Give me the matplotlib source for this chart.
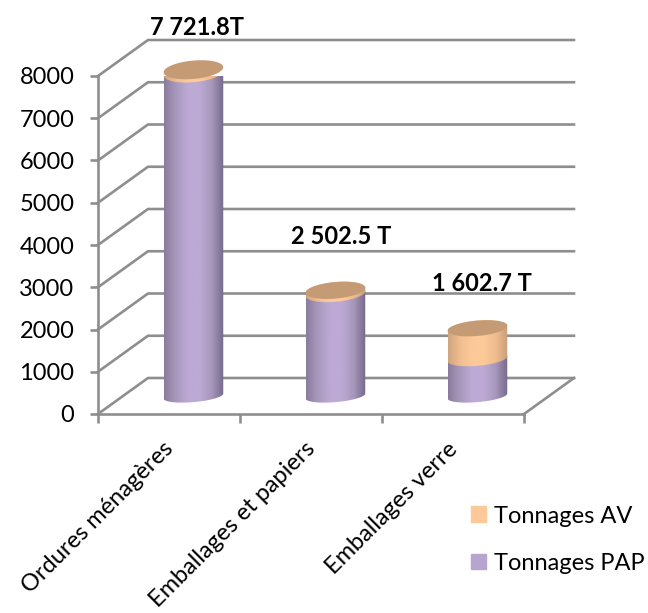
import numpy as np
from matplotlib import pyplot as plt
from matplotlib.patches import PathPatch, Patch
from matplotlib.path import Path
from matplotlib.colors import LinearSegmentedColormap

plt.rcParams['font.family'] = ['Lato', 'DejaVu Sans']

categories = ["Ordures ménagères", "Emballages et papiers", "Emballages verre"]
tonnages_pap = [7645, 2425, 880]
tonnages_av = [77, 77, 723]
totaux = ["7 721.8T", "2 502.5 T", "1 602.7 T"]
yticks = [0, 1000, 2000, 3000, 4000, 5000, 6000, 7000, 8000]

GREY = '#8e8e8e'
# 3d box offset, in data units
DX = 0.352
DY = 852
# one pixel in y, in data units
PX = 8000 / 338

fig = plt.figure(figsize=(6.48, 6.13), dpi=100)
ax = fig.add_axes([98 / 648, 1 - 414 / 613, 426 / 648, 338 / 613])
ax.set_xlim(0, 3)
ax.set_ylim(0, 8000)

# back wall and floor
for v in yticks:
    ax.plot([0, DX, 3 + DX], [v, v + DY, v + DY], color=GREY, lw=1.9, clip_on=False, zorder=1)
ax.plot([3, 3 + DX], [0, DY], color=GREY, lw=1.9, clip_on=False, zorder=1)


def half_height(v):
    return np.interp(v, [0, 1600, 2500, 7700], [5.7, 7.3, 8.2, 9.2]) * PX


def arc(c, v, t0, t1):
    t = np.linspace(t0, t1, 60)
    x = c + 0.21 * np.cos(t)
    y = v + half_height(v) * np.sin(t) + 2.5 * PX * np.cos(t)
    return np.column_stack([x, y])


def body(c, v0, v1, colors, z):
    # front arc of the lower end, then back arc of the upper end
    pts = np.vstack([arc(c, v0, np.pi, 2 * np.pi), arc(c, v1, 0, np.pi)])
    patch = PathPatch(Path(np.vstack([pts, pts[0]])), fc='none', ec='none', zorder=z)
    ax.add_patch(patch)
    cmap = LinearSegmentedColormap.from_list('c', colors)
    im = ax.imshow(np.linspace(0, 1, 128)[None, :], cmap=cmap, aspect='auto', zorder=z, clip_on=True,
                   extent=[c - 0.21, c + 0.21, v0 - 300, v1 + 300])
    im.set_clip_path(patch)


purple = ['#8a7c9f', '#a898bd', '#bcaad5', '#bcaad5', '#a797bb', '#75698a']
orange = ['#cfa67f', '#f0bd8f', '#fdc998', '#fdc998', '#efbc8e', '#c79f7b']
base = DY / 2
for i in range(3):
    c = i + 0.5 + DX / 2 - 0.004
    v0 = base
    v1 = v0 + tonnages_pap[i]
    v2 = v1 + tonnages_av[i]
    body(c, v0, v1, purple, 3)
    body(c, v1, v2, orange, 4)
    top = arc(c, v2, 0, 2 * np.pi)
    ax.fill(top[:, 0], top[:, 1], color='#c59b75', lw=0, zorder=5, clip_on=False)
ax.set_xlim(0, 3)
ax.set_ylim(0, 8000)

ax.text(0.365, 9150, totaux[0], fontsize=17, fontweight='bold', ha='left', va='center', clip_on=False)
ax.text(1.36, 4200, totaux[1], fontsize=17, fontweight='bold', ha='left', va='center')
ax.text(2.35, 3100, totaux[2], fontsize=17, fontweight='bold', ha='left', va='center')

for s in ['top', 'right']:
    ax.spines[s].set_visible(False)
for s in ['left', 'bottom']:
    ax.spines[s].set_color(GREY)
    ax.spines[s].set_linewidth(1.9)
    ax.spines[s].set_zorder(2)
ax.set_yticks(yticks)
ax.set_xticks([0, 1, 2, 3])
ax.set_xticklabels([])
# labels end a little left of the category centre
ax.set_xticks([0.455, 1.455, 2.455], minor=True)
ax.set_xticklabels(categories, minor=True, rotation=45, ha='right', va='top', rotation_mode='anchor', fontsize=17)
ax.tick_params(axis='y', length=6, width=1.9, color=GREY, labelsize=17, pad=11)
ax.tick_params(axis='x', which='major', length=6.5, width=1.9, color=GREY)
ax.tick_params(axis='x', which='minor', length=0, pad=17.5)
for lab in ax.get_yticklabels():
    lab.set_va('center_baseline')

handles = [Patch(color='#fdc998'), Patch(color='#b7a5cf')]
ax.legend(handles, ["Tonnages AV", "Tonnages PAP"], loc='lower left', bbox_to_anchor=(471 / 648, 39 / 613),
          bbox_transform=fig.transFigure, frameon=False, fontsize=17, handlelength=0.635, handleheight=0.635,
          handletextpad=0.32, labelspacing=1.12, borderaxespad=0, borderpad=0)

fig.savefig('out.png', dpi=100)
